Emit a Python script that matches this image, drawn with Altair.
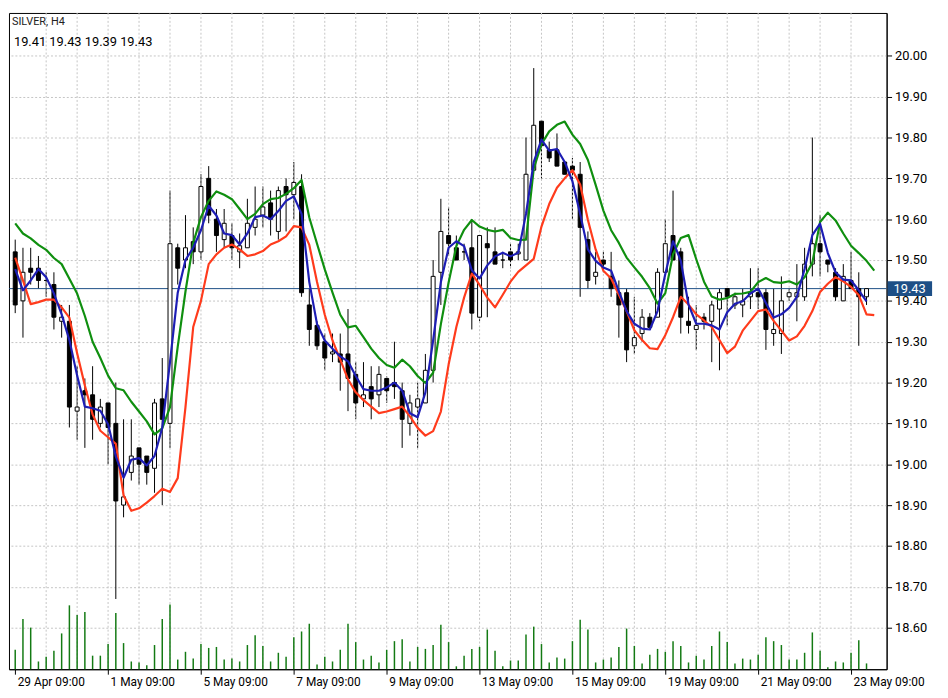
import altair as alt
import pandas as pd

# ---------------- data ----------------
title_text = ["SILVER, H4", "19.41 19.43 19.39 19.43"]
last_price = [19.43]
last_price_label = ["19.43"]

date_labels = ["29 Apr 09:00", "1 May 09:00", "5 May 09:00", "7 May 09:00", "9 May 09:00",
               "13 May 09:00", "15 May 09:00", "19 May 09:00", "21 May 09:00", "23 May 09:00"]
date_label_bars = [0, 12, 24, 36, 48, 60, 72, 84, 96, 108]
grid_bars = [4, 8, 12, 16, 20, 24, 28, 32, 36, 40, 44, 48, 52, 56, 60, 64, 68, 72, 76,
             80, 84, 88, 92, 96, 100, 104, 108]
y_ticks = [18.60, 18.70, 18.80, 18.90, 19.00, 19.10, 19.20, 19.30, 19.40, 19.50,
           19.60, 19.70, 19.80, 19.90, 20.00]

opens = [19.52, 19.40, 19.48, 19.48, 19.45, 19.44, 19.35, 19.35, 19.13, 19.18,
         19.17, 19.10, 19.15, 19.10, 18.90, 18.98, 19.04, 19.02, 18.99, 19.16,
         19.10, 19.53, 19.50, 19.545, 19.52, 19.70, 19.60, 19.55, 19.56, 19.52,
         19.53, 19.58, 19.61, 19.64, 19.57, 19.68, 19.66, 19.68, 19.39, 19.34,
         19.30, 19.27, 19.27, 19.27, 19.22, 19.16, 19.19, 19.17, 19.21, 19.20,
         19.18, 19.10, 19.14, 19.15, 19.23, 19.47, 19.56, 19.53, 19.52, 19.53,
         19.36, 19.54, 19.52, 19.50, 19.52, 19.515, 19.50, 19.72, 19.84, 19.77,
         19.77, 19.74, 19.73, 19.71, 19.55, 19.46, 19.50, 19.46, 19.42, 19.42,
         19.29, 19.32, 19.36, 19.36, 19.47, 19.56, 19.52, 19.35, 19.33, 19.36,
         19.35, 19.38, 19.43, 19.39, 19.39, 19.41, 19.42, 19.42, 19.32, 19.32,
         19.41, 19.41, 19.41, 19.49, 19.54, 19.50, 19.47, 19.40, 19.45, 19.43,
         19.41]
highs = [19.55, 19.53, 19.53, 19.51, 19.47, 19.47, 19.39, 19.39, 19.24, 19.21,
         19.24, 19.16, 19.15, 19.20, 19.11, 19.11, 19.04, 19.02, 19.16, 19.26,
         19.67, 19.54, 19.61, 19.58, 19.71, 19.73, 19.625, 19.625, 19.59, 19.565,
         19.65, 19.68, 19.68, 19.67, 19.68, 19.70, 19.74, 19.71, 19.43, 19.35,
         19.32, 19.32, 19.32, 19.38, 19.25, 19.25, 19.24, 19.24, 19.215, 19.30,
         19.20, 19.17, 19.20, 19.27, 19.50, 19.65, 19.63, 19.56, 19.54, 19.60,
         19.56, 19.58, 19.58, 19.52, 19.54, 19.54, 19.80, 19.97, 19.84, 19.79,
         19.81, 19.74, 19.75, 19.74, 19.57, 19.52, 19.52, 19.52, 19.45, 19.43,
         19.41, 19.38, 19.37, 19.48, 19.60, 19.67, 19.53, 19.41, 19.39, 19.37,
         19.40, 19.43, 19.43, 19.42, 19.43, 19.48, 19.48, 19.43, 19.43, 19.46,
         19.43, 19.49, 19.53, 19.80, 19.61, 19.50, 19.48, 19.49, 19.52, 19.47,
         19.43]
lows = [19.37, 19.31, 19.44, 19.43, 19.41, 19.33, 19.31, 19.09, 19.06, 19.04,
        19.06, 19.09, 19.00, 18.67, 18.87, 18.96, 18.95, 18.95, 18.93, 18.90,
        19.04, 19.44, 19.48, 19.49, 19.50, 19.59, 19.52, 19.53, 19.50, 19.48,
        19.53, 19.56, 19.58, 19.56, 19.55, 19.57, 19.60, 19.41, 19.29, 19.28,
        19.23, 19.25, 19.18, 19.13, 19.11, 19.14, 19.11, 19.14, 19.15, 19.16,
        19.04, 19.07, 19.04, 19.15, 19.20, 19.39, 19.51, 19.50, 19.50, 19.33,
        19.35, 19.36, 19.49, 19.48, 19.48, 19.50, 19.50, 19.72, 19.70, 19.74,
        19.73, 19.71, 19.60, 19.41, 19.43, 19.44, 19.47, 19.41, 19.31, 19.25,
        19.27, 19.30, 19.335, 19.36, 19.47, 19.50, 19.32, 19.32, 19.28, 19.33,
        19.25, 19.23, 19.34, 19.38, 19.36, 19.38, 19.38, 19.28, 19.29, 19.27,
        19.40, 19.35, 19.40, 19.46, 19.46, 19.47, 19.40, 19.40, 19.43, 19.29,
        19.39]
closes = [19.39, 19.47, 19.47, 19.45, 19.45, 19.36, 19.36, 19.14, 19.14, 19.17,
          19.11, 19.14, 19.09, 18.91, 18.92, 19.02, 19.00, 18.98, 19.15, 19.11,
          19.54, 19.48, 19.53, 19.52, 19.68, 19.61, 19.56, 19.59, 19.53, 19.535,
          19.59, 19.60, 19.63, 19.60, 19.67, 19.66, 19.69, 19.42, 19.33, 19.29,
          19.26, 19.275, 19.25, 19.21, 19.15, 19.17, 19.16, 19.22, 19.18, 19.19,
          19.11, 19.15, 19.16, 19.23, 19.46, 19.57, 19.54, 19.50, 19.52, 19.37,
          19.56, 19.53, 19.49, 19.50, 19.50, 19.52, 19.71, 19.83, 19.78, 19.75,
          19.73, 19.71, 19.72, 19.58, 19.45, 19.47, 19.49, 19.43, 19.39, 19.28,
          19.31, 19.36, 19.335, 19.47, 19.54, 19.50, 19.36, 19.34, 19.34, 19.35,
          19.39, 19.42, 19.41, 19.41, 19.40, 19.42, 19.41, 19.33, 19.33, 19.40,
          19.42, 19.42, 19.49, 19.54, 19.52, 19.49, 19.41, 19.46, 19.43, 19.41,
          19.43]
volumes = [20, 52, 43, 8, 13, 19, 37, 66, 56, 59,
           14, 14, 26, 58, 27, 8, 7, 4, 25, 52,
           67, 10, 18, 11, 26, 22, 23, 10, 11, 8,
           25, 35, 24, 8, 17, 13, 33, 39, 47, 5,
           13, 8, 20, 47, 28, 10, 14, 7, 20, 29,
           31, 8, 23, 21, 25, 46, 28, 3, 14, 21,
           23, 41, 19, 3, 9, 9, 36, 44, 26, 7,
           12, 11, 29, 51, 41, 7, 10, 12, 23, 42,
           24, 6, 15, 21, 18, 29, 24, 7, 14, 10,
           24, 39, 28, 6, 11, 10, 15, 33, 29, 25,
           10, 10, 17, 38, 19, 2, 8, 7, 17, 30,
           6]

blue_line = [19.478, 19.426, 19.45, 19.478, 19.458, 19.418, 19.367, 19.304, 19.217, 19.141,
             19.137, 19.131, 19.098, 19.019, 18.967, 19.011, 19.015, 18.997, 19.02, 19.09,
             19.25, 19.42, 19.50, 19.53, 19.573, 19.633, 19.609, 19.565, 19.561, 19.538,
             19.565, 19.605, 19.609, 19.60, 19.62, 19.645, 19.656, 19.613, 19.446, 19.343,
             19.303, 19.283, 19.264, 19.252, 19.216, 19.184, 19.18, 19.18, 19.188, 19.20,
             19.18, 19.125, 19.115, 19.176, 19.303, 19.446, 19.53, 19.546, 19.534, 19.475,
             19.455, 19.487, 19.509, 19.518, 19.509, 19.518, 19.613, 19.74, 19.795, 19.768,
             19.772, 19.74, 19.693, 19.613, 19.526, 19.498, 19.482, 19.474, 19.423, 19.375,
             19.344, 19.332, 19.33, 19.375, 19.466, 19.546, 19.498, 19.391, 19.344, 19.344,
             19.34, 19.33, 19.372, 19.393, 19.399, 19.418, 19.43, 19.395, 19.359, 19.367,
             19.383, 19.41, 19.478, 19.561, 19.589, 19.517, 19.47, 19.452, 19.45, 19.426,
             19.399]
red_line = [19.506, 19.45, 19.392, 19.397, 19.403, 19.403, 19.384, 19.359, 19.272, 19.193,
            19.122, 19.082, 19.066, 19.05, 18.924, 18.886, 18.892, 18.906, 18.922, 18.94,
            18.932, 18.966, 19.14, 19.336, 19.40, 19.49, 19.514, 19.53, 19.538, 19.526,
            19.51, 19.514, 19.522, 19.538, 19.546, 19.558, 19.583, 19.58, 19.537, 19.446,
            19.366, 19.303, 19.256, 19.208, 19.176, 19.157, 19.141, 19.125, 19.129, 19.135,
            19.141, 19.117, 19.089, 19.07, 19.081, 19.129, 19.244, 19.336, 19.408, 19.467,
            19.439, 19.408, 19.384, 19.415, 19.447, 19.471, 19.487, 19.503, 19.582, 19.637,
            19.677, 19.70, 19.72, 19.685, 19.598, 19.526, 19.474, 19.455, 19.415, 19.375,
            19.328, 19.304, 19.284, 19.282, 19.316, 19.36, 19.41, 19.391, 19.367, 19.352,
            19.336, 19.304, 19.272, 19.288, 19.327, 19.351, 19.375, 19.379, 19.351, 19.327,
            19.303, 19.313, 19.339, 19.375, 19.422, 19.442, 19.458, 19.448, 19.434, 19.414,
            19.367, 19.365]
green_line = [19.59, 19.565, 19.553, 19.537, 19.525, 19.505, 19.49, 19.454, 19.418, 19.363,
              19.30, 19.26, 19.217, 19.186, 19.181, 19.153, 19.129, 19.105, 19.073, 19.088,
              19.14, 19.288, 19.423, 19.542, 19.605, 19.645, 19.668, 19.66, 19.649, 19.625,
              19.60, 19.613, 19.637, 19.649, 19.652, 19.662, 19.676, 19.696, 19.604, 19.54,
              19.477, 19.42, 19.366, 19.335, 19.339, 19.311, 19.283, 19.26, 19.243, 19.236,
              19.256, 19.24, 19.216, 19.199, 19.224, 19.343, 19.445, 19.534, 19.574, 19.598,
              19.582, 19.574, 19.57, 19.574, 19.554, 19.549, 19.55, 19.724, 19.784, 19.815,
              19.831, 19.839, 19.807, 19.784, 19.745, 19.684, 19.621, 19.573, 19.542, 19.506,
              19.482, 19.459, 19.431, 19.393, 19.419, 19.514, 19.554, 19.561, 19.502, 19.447,
              19.411, 19.403, 19.407, 19.417, 19.418, 19.422, 19.446, 19.456, 19.446, 19.444,
              19.448, 19.44, 19.458, 19.494, 19.593, 19.616, 19.597, 19.565, 19.535, 19.517,
              19.498, 19.474]

# ---------------- tables ----------------
n = len(opens)
bars = pd.DataFrame({"i": list(range(n)), "open": opens, "high": highs, "low": lows,
                     "close": closes, "vol": volumes})
line_rows = []
for name, arr in (("green", green_line), ("red", red_line), ("blue", blue_line)):
    for i, v in enumerate(arr):
        line_rows.append({"i": i, "value": v, "series": name})
lines = pd.DataFrame(line_rows)
price_df = pd.DataFrame({"price": last_price, "label": last_price_label})
head_df = pd.DataFrame({"t1": [title_text[0]], "t2": [title_text[1]]})
grid_df = pd.DataFrame({"g": grid_bars})

W, H = 888, 664

# label expression built as a chain of ternaries from the label lists
label_expr = "''"
for pos, lab in reversed(list(zip(date_label_bars, date_labels))):
    label_expr = f"(datum.value == {pos}) ? '{lab}' : ({label_expr})"

xs = alt.Scale(domain=[-0.166, 111.96], nice=False, zero=False)
ys = alt.Scale(domain=[18.498, 20.105], nice=False, zero=False)
GRID = "#c4c4c4"

# one shared x axis definition, used by every layer that has an x field
x_axis = alt.Axis(values=date_label_bars, grid=False, labelExpr=label_expr, title=None,
                  labelAlign="left", labelOffset=2, labelPadding=2,
                  labelFont="Roboto", labelFontSize=12,
                  labelColor="#000000", labelOverlap=False, labelFlush=False,
                  tickColor="#000000", tickSize=5, domainColor="#000000")


def X(field):
    return alt.X(field, scale=xs, axis=x_axis, title=None)


vgrid = alt.Chart(grid_df).mark_rule(color=GRID, strokeDash=[2, 2], strokeWidth=1).encode(
    x=X("g:Q"),
)

volume = alt.Chart(bars).mark_bar(size=1.5, color="#137a13").encode(
    x=X("i:Q"),
    y=alt.Y("vol:Q", scale=alt.Scale(domain=[0, 678], nice=False), axis=None),
)

price_line = alt.Chart(price_df).mark_rule(color="#1d4f86", strokeWidth=1).encode(
    y=alt.Y("price:Q", scale=ys, axis=None),
)

wicks = alt.Chart(bars).mark_rule(color="#000000", strokeWidth=1).encode(
    x=X("i:Q"),
    y=alt.Y("low:Q", scale=ys, title=None,
            axis=alt.Axis(values=y_ticks, format=".2f", orient="right", grid=True,
                          gridDash=[2, 2], gridColor=GRID, labelFont="Roboto",
                          labelFontSize=13, labelColor="#000000", labelPadding=3,
                          labelOverlap=False, labelFlush=False, tickColor="#000000",
                          tickSize=5, domainColor="#000000")),
    y2="high:Q",
)

bodies = alt.Chart(bars).mark_bar(size=4, stroke="#000000", strokeWidth=1).encode(
    x=X("i:Q"),
    y=alt.Y("open:Q", scale=ys, axis=None),
    y2="close:Q",
    fill=alt.condition("datum.close >= datum.open", alt.value("#ffffff"), alt.value("#000000")),
)

ma_lines = alt.Chart(lines).mark_line(strokeWidth=2.2, strokeJoin="round").encode(
    x=X("i:Q"),
    y=alt.Y("value:Q", scale=ys, axis=None),
    color=alt.Color("series:N", legend=None,
                    scale=alt.Scale(domain=["green", "red", "blue"],
                                    range=["#0f8f0f", "#ff3b1c", "#1d1db4"])),
    order="i:Q",
)

tag_box = alt.Chart(price_df).mark_rule(color="#1d4f86", strokeWidth=15, strokeCap="butt",
                                        clip=False).encode(
    x=alt.value(W + 1), x2=alt.value(W + 46),
    y=alt.Y("price:Q", scale=ys, axis=None),
)
tag_text = alt.Chart(price_df).mark_text(color="#ffffff", font="Roboto", fontSize=13,
                                         align="left", baseline="middle").encode(
    x=alt.value(W + 7),
    y=alt.Y("price:Q", scale=ys, axis=None),
    text="label:N",
)

head1 = alt.Chart(head_df).mark_text(font="Roboto", fontSize=11, align="left",
                                     baseline="middle", color="#222222").encode(
    x=alt.value(3), y=alt.value(9), text="t1:N")
head2 = alt.Chart(head_df).mark_text(font="Roboto", fontSize=13, align="left",
                                     baseline="middle", color="#000000").encode(
    x=alt.value(5), y=alt.value(29), text="t2:N")

chart = alt.layer(
    wicks, vgrid, volume, price_line, bodies, ma_lines, tag_box, tag_text, head1, head2
).resolve_scale(y="independent").properties(
    width=W, height=H, padding={"left": 0, "top": 0, "right": 0, "bottom": 0},
    background="#ffffff",
).configure_view(stroke="#000000", strokeWidth=1)

chart.save("out.html", embed_options={"renderer": "svg", "actions": False})
